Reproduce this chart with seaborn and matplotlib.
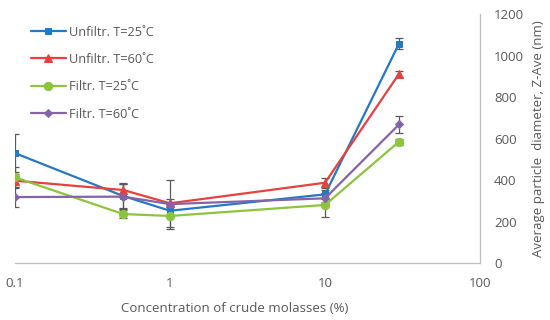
import matplotlib
matplotlib.use("Agg")
import matplotlib.pyplot as plt
import seaborn as sns
import pandas as pd
from matplotlib.ticker import LogLocator, NullFormatter, FixedLocator

# concentrations (%)
conc = [0.1, 0.5, 1, 10, 30]

# Z-average diameters (nm) and error bars
unf25 = [530, 323, 252, 331, 1058]
unf25_err = [90, 60, 20, 20, 25]
unf60 = [397, 352, 288, 387, 912]
unf60_err = [30, 35, 20, 25, 15]
fil25 = [413, 236, 227, 280, 585]
fil25_err = [50, 20, 55, 57, 15]
fil60 = [318, 320, 284, 312, 668]
fil60_err = [50, 60, 118, 20, 40]

labels = ["Unfiltr. T=25˚C", "Unfiltr. T=60˚C", "Filtr. T=25˚C", "Filtr. T=60˚C"]
colors = ["#2479C2", "#E8403F", "#8CC43F", "#8563A8"]
markers = ["s", "^", "o", "D"]
msizes = [5, 5.5, 6, 3.8]

rows = []
for lab, vals in zip(labels, [unf25, unf60, fil25, fil60]):
    for c, v in zip(conc, vals):
        rows.append({"conc": c, "size": v, "series": lab})
df = pd.DataFrame(rows)

sns.set_style("white")
plt.rcParams["font.family"] = ["Open Sans", "DejaVu Sans"]

fig = plt.figure(figsize=(5.5, 3.2), dpi=100)
ax = fig.add_axes([0.027, 0.178, 0.846, 0.778])

# error bars first, under the lines
errs = [unf25_err, unf60_err, fil25_err, fil60_err]
vals_all = [unf25, unf60, fil25, fil60]
for v, e in zip(vals_all, errs):
    ax.errorbar(conc, v, yerr=e, fmt="none", ecolor="#595959", elinewidth=0.9,
                capsize=3, capthick=0.9, zorder=1)

for lab, col, m, ms in zip(labels, colors, markers, msizes):
    sub = df[df["series"] == lab]
    sns.lineplot(data=sub, x="conc", y="size", ax=ax, color=col, marker=m,
                 markersize=ms, markeredgecolor=col, linewidth=1.6, label=lab,
                 zorder=3)

ax.set_xscale("log")
ax.set_xlim(0.1, 100)
ax.set_ylim(0, 1200)
ax.xaxis.set_major_locator(FixedLocator([0.1, 1, 10, 100]))
ax.set_xticklabels(["0.1", "1", "10", "100"])
ax.xaxis.set_minor_locator(LogLocator(base=10, subs=range(2, 10), numticks=20))
ax.xaxis.set_minor_formatter(NullFormatter())

ax.yaxis.tick_right()
ax.yaxis.set_label_position("right")
ax.set_yticks(range(0, 1201, 200))

for s in ["top", "left"]:
    ax.spines[s].set_visible(False)
for s in ["bottom", "right"]:
    ax.spines[s].set_color("#BFBFBF")
    ax.spines[s].set_linewidth(0.9)

ax.tick_params(axis="x", which="major", direction="inout", length=8, width=0.9,
               color="#BFBFBF", labelsize=9.5, labelcolor="#595959", pad=6)
ax.tick_params(axis="x", which="minor", direction="in", length=4, width=0.8,
               color="#BFBFBF")
ax.tick_params(axis="y", length=0, labelsize=9.5, labelcolor="#595959", pad=10)

ax.set_xlabel("Concentration of crude molasses (%)", fontsize=9.5, color="#595959")
ax.xaxis.set_label_coords(0.473, -0.155)
ax.set_ylabel("Average particle  diameter, Z-Ave (nm)", fontsize=9.5,
              color="#595959", labelpad=6)

ax.legend(loc="upper left", bbox_to_anchor=(0.01, 1.0), frameon=False,
          fontsize=9.2, labelspacing=1.12, handlelength=2.7, handletextpad=0.3,
          labelcolor="#595959")

fig.savefig("out.png", dpi=100)
